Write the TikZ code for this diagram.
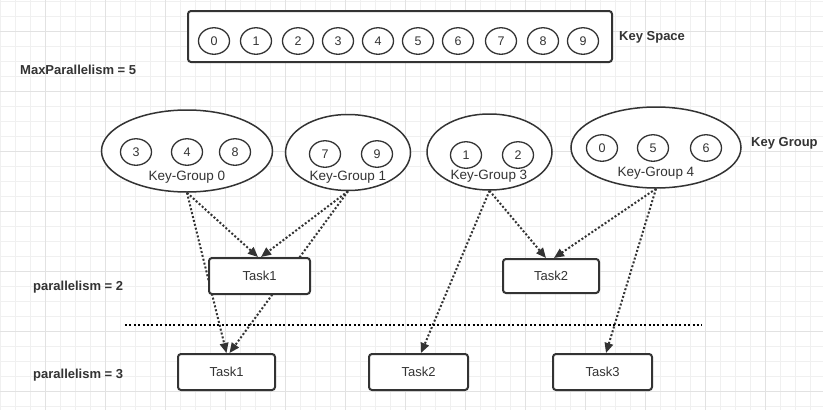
\documentclass[tikz,border=0pt]{standalone}
\usepackage{fontspec}
\setmainfont{Liberation Sans}
\usetikzlibrary{shapes.geometric,arrows.meta}
\pgfdeclarelayer{grid}
\pgfdeclarelayer{edges}
\pgfsetlayers{grid,edges,main}
\definecolor{ink}{HTML}{333333}
\definecolor{gridminor}{HTML}{F0F0F0}
\definecolor{gridmajor}{HTML}{E2E2E2}
\tikzset{
  txt/.style={text=ink,font=\fontsize{13.5}{15}\selectfont,inner sep=0pt},
  boldlbl/.style={text=ink,font=\fontsize{13}{15}\selectfont\bfseries,inner sep=0pt,anchor=west},
  keycircle/.style={ellipse,draw=ink,line width=1.3pt,fill=white,minimum width=31pt,minimum height=26.5pt,inner sep=0pt,text=ink,font=\fontsize{12.5}{14}\selectfont},
  groupell/.style={ellipse,draw=ink,line width=1.5pt,fill=white,inner sep=0pt},
  taskbox/.style={rectangle,rounded corners=3pt,draw=ink,line width=2pt,fill=white,minimum height=36pt,inner sep=0pt,text=ink,font=\fontsize{13}{15}\selectfont},
  spacebox/.style={rectangle,rounded corners=3pt,draw=ink,line width=2pt,fill=white,minimum width=424pt,minimum height=51pt,inner sep=0pt},
  flow/.style={draw=ink,line width=2pt,dash pattern=on 2pt off 2pt,-{Triangle[length=10pt,width=8.5pt]}},
  sep/.style={draw=black,line width=2pt,dash pattern=on 2pt off 2.4pt},
}
\begin{document}
\begin{tikzpicture}[x=1pt,y=-1pt]
\useasboundingbox (0,0) rectangle (823,410);
\begin{pgfonlayer}{grid}
  \fill[white] (0,0) rectangle (823,410);
  \foreach \i in {0,15,...,825} \draw[gridminor,line width=1pt] (\i,0) -- (\i,410);
  \foreach \j in {1,16,...,410} \draw[gridminor,line width=1pt] (0,\j) -- (823,\j);
  \foreach \i in {45,105,...,825} \draw[gridmajor,line width=1pt] (\i,0) -- (\i,410);
  \foreach \j in {31,91,...,410} \draw[gridmajor,line width=1pt] (0,\j) -- (823,\j);
\end{pgfonlayer}

% Key space
\node[spacebox] (space) at (400,36.5) {};
\foreach \n/\x in {0/214,1/256,2/298,3/338,4/378,5/418,6/458,7/501,8/543,9/583}
  \node[keycircle] (s\n) at (\x,41) {\n};
\node[boldlbl] (spacelbl) at (619,37.5) {Key Space};
\node[boldlbl] (maxp) at (20,70) {MaxParallelism = 5};

% Key groups
\node[groupell,minimum width=171pt,minimum height=82pt] (kg0) at (187,151) {};
\node[groupell,minimum width=125pt,minimum height=76pt] (kg1) at (348,152.5) {};
\node[groupell,minimum width=125pt,minimum height=76pt] (kg3) at (489.5,152) {};
\node[groupell,minimum width=170pt,minimum height=81pt] (kg4) at (656,147.5) {};

\node[keycircle] (g03) at (136,152) {3};
\node[keycircle] (g04) at (187,152) {4};
\node[keycircle] (g08) at (235,152) {8};
\node[keycircle] (g17) at (325,154) {7};
\node[keycircle] (g19) at (377,154) {9};
\node[keycircle] (g31) at (466,155) {1};
\node[keycircle] (g32) at (518,155) {2};
\node[keycircle] (g40) at (602,148) {0};
\node[keycircle] (g45) at (653,148) {5};
\node[keycircle] (g46) at (706,148) {6};

\node[txt] (kg0lbl) at (187,177) {Key-Group 0};
\node[txt] (kg1lbl) at (348,177) {Key-Group 1};
\node[txt] (kg3lbl) at (489,176) {Key-Group 3};
\node[txt] (kg4lbl) at (656,173) {Key-Group 4};
\node[boldlbl] (kglbl) at (751,143) {Key Group};

% Tasks
\node[taskbox,minimum width=101pt] (ta1) at (259.5,276) {Task1};
\node[taskbox,minimum width=96pt,minimum height=34pt] (ta2) at (551,276) {Task2};
\node[taskbox,minimum width=97pt] (tb1) at (226.5,372) {Task1};
\node[taskbox,minimum width=99pt] (tb2) at (418.5,372) {Task2};
\node[taskbox,minimum width=99pt] (tb3) at (602.5,372) {Task3};

\node[boldlbl] (p2) at (33,287) {parallelism = 2};
\node[boldlbl] (p3) at (33,375) {parallelism = 3};

\coordinate (sepL) at (125,325);
\coordinate (sepR) at (702,325);
\draw[sep] (sepL) -- (sepR);

\begin{pgfonlayer}{edges}
  \draw[flow] (kg0.south) -- ([xshift=-1.5pt]ta1.north);
  \draw[flow] (kg1.south) -- ([xshift=1.5pt]ta1.north);
  \draw[flow] (kg0.south) -- (tb1.north);
  \draw[flow] (kg1.south) -- ([xshift=3pt]tb1.north);
  \draw[flow] (kg3.south) -- ([xshift=-5pt]ta2.north);
  \draw[flow] (kg4.south) -- ([xshift=3pt]ta2.north);
  \draw[flow] (kg3.south) -- ([xshift=2.5pt]tb2.north);
  \draw[flow] (kg4.south) -- ([xshift=3.5pt]tb3.north);
\end{pgfonlayer}
\end{tikzpicture}
\end{document}
